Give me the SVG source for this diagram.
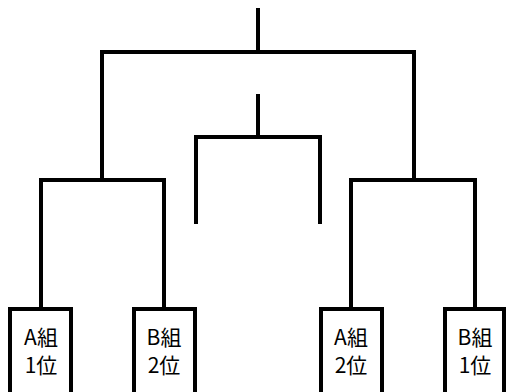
<svg xmlns="http://www.w3.org/2000/svg" width="506" height="392" viewBox="0 0 506 392">
<style>
.ln{fill:none;stroke:#000;stroke-width:4;stroke-linecap:square;stroke-linejoin:miter}
.bx{fill:#fff;stroke:#000;stroke-width:4}
.t{font-family:"Noto Sans CJK JP","Liberation Sans",sans-serif;font-size:21px;fill:#000;text-anchor:middle}
</style>
<rect width="506" height="392" fill="#fff"/>
<g id="connectors" class="ln">
<path d="M258 10V52M102 180V52H414V180"/>
<path d="M258 96V137M196 222V137H320V222"/>
<path d="M41 308V180H164V308"/>
<path d="M351 308V180H475V308"/>
</g>
<g id="a1"><rect class="bx" x="10" y="309" width="61" height="100"/><text class="t" x="41" y="345">A組</text><text class="t" x="41" y="373">1位</text></g>
<g id="b2"><rect class="bx" x="134" y="309" width="61" height="100"/><text class="t" x="164" y="345">B組</text><text class="t" x="164" y="373">2位</text></g>
<g id="a2"><rect class="bx" x="321" y="309" width="61" height="100"/><text class="t" x="351" y="345">A組</text><text class="t" x="351" y="373">2位</text></g>
<g id="b1"><rect class="bx" x="445" y="309" width="59" height="100"/><text class="t" x="475" y="345">B組</text><text class="t" x="475" y="373">1位</text></g>
</svg>
